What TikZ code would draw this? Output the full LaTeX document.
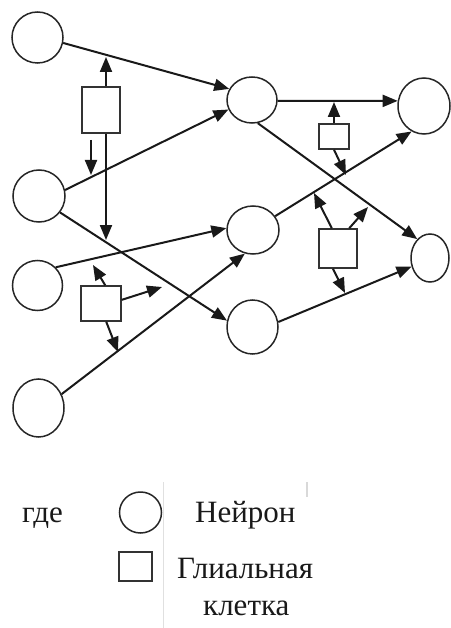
\documentclass[tikz,border=0pt]{standalone}
\usepackage{fontspec}
\setmainfont{Liberation Serif}
\newfontfamily\legendfont{Liberation Serif}
\usetikzlibrary{shapes.geometric,arrows.meta,calc}
\begin{document}
\begin{tikzpicture}[x=1pt,y=-1pt,
  neuron/.style={ellipse,draw=black!85,line width=1.5pt,inner sep=0pt},
  glia/.style={rectangle,draw=black!80,line width=1.5pt,inner sep=0pt,fill=white},
  conn/.style={line width=2pt,draw=black!90,-{Triangle[length=15pt,width=12pt]}},
  lbl/.style={inner sep=0pt,anchor=base west,font=\legendfont\fontsize{31}{36}\selectfont,text=black!90}]
\useasboundingbox (0,0) rectangle (450,628);
% neurons
\node[neuron,minimum width=51pt,minimum height=51pt] (A) at (37.5,37.5) {};
\node[neuron,minimum width=52pt,minimum height=52pt] (B) at (39,196) {};
\node[neuron,minimum width=50pt,minimum height=50pt] (C) at (37.5,285.5) {};
\node[neuron,minimum width=51pt,minimum height=58pt] (D) at (38.5,408) {};
\node[neuron,minimum width=50pt,minimum height=46pt] (E) at (252,100) {};
\node[neuron,minimum width=52pt,minimum height=48pt] (G) at (253,230) {};
\node[neuron,minimum width=51pt,minimum height=54pt] (I) at (252.5,327) {};
\node[neuron,minimum width=52pt,minimum height=56pt] (F) at (424,106) {};
\node[neuron,minimum width=38pt,minimum height=48pt] (H) at (430,258) {};
% glial cells
\node[glia,minimum width=38pt,minimum height=46pt] (S1) at (101,110) {};
\node[glia,minimum width=30pt,minimum height=25pt] (S2) at (334,136.5) {};
\node[glia,minimum width=38pt,minimum height=39pt] (S3) at (338,248.5) {};
\node[glia,minimum width=40pt,minimum height=35pt] (S4) at (101,303.5) {};
% neuron connections
\draw[conn] (A.-12) -- (E.154);
\draw[conn] (B.13) -- (E.-158);
\draw[conn] (B.-38) -- (I.166);
\draw[conn] (C.45) -- (G.176);
\draw[conn] (D.31.5) -- (G.-109);
\draw[conn] (E.-2) -- (F.169.5);
\draw[conn] (E.-76) -- (H.124);
\draw[conn] (G.32) -- (F.-116);
\draw[conn] (I.11.5) -- (H.-155);
% glial arrow ends
\coordinate (g1a) at (106,57);
\coordinate (g1b) at (106,240);
\coordinate (g1c) at (91,140);
\coordinate (g1d) at (91,175);
\coordinate (g2a) at (334,102);
\coordinate (g2b) at (346,175);
\coordinate (g3a) at (314,193);
\coordinate (g3b) at (368,207);
\coordinate (g3c) at (345,293);
\coordinate (g4a) at (93,265);
\coordinate (g4b) at (162,287);
\coordinate (g4c) at (118,352);
% glial arrows
\draw[conn] (S1.north -| g1a) -- (g1a);
\draw[conn] (S1.south -| g1b) -- (g1b);
\draw[conn] (g1c) -- (g1d);
\draw[conn] (S2.north) -- (g2a);
\draw[conn] (S2.south) -- (g2b);
\draw[conn] (S3.107) -- (g3a);
\draw[conn] (S3.61) -- (g3b);
\draw[conn] (S3.-104) -- (g3c);
\draw[conn] (S4.77) -- (g4a);
\draw[conn] (S4.10) -- (g4b);
\draw[conn] (S4.-74) -- (g4c);
% legend
\node[lbl] (where) at (22,522) {где};
\node[neuron,minimum width=42pt,minimum height=41pt] (Ln) at (140.5,512.5) {};
\node[glia,minimum width=33pt,minimum height=29pt] (Lg) at (135.5,566.5) {};
\node[lbl] (tn) at (195,522) {Нейрон};
\node[lbl] (tg1) at (177,578) {Глиальная};
\node[lbl] (tg2) at (203,615) {клетка};
\coordinate (v1) at (163,482);
\coordinate (v2) at (163,628);
\coordinate (v3) at (307,482);
\coordinate (v4) at (307,497);
\draw[black!12,line width=1pt] (v1) -- (v2);
\draw[black!15,line width=1.2pt] (v3) -- (v4);
\end{tikzpicture}
\end{document}
